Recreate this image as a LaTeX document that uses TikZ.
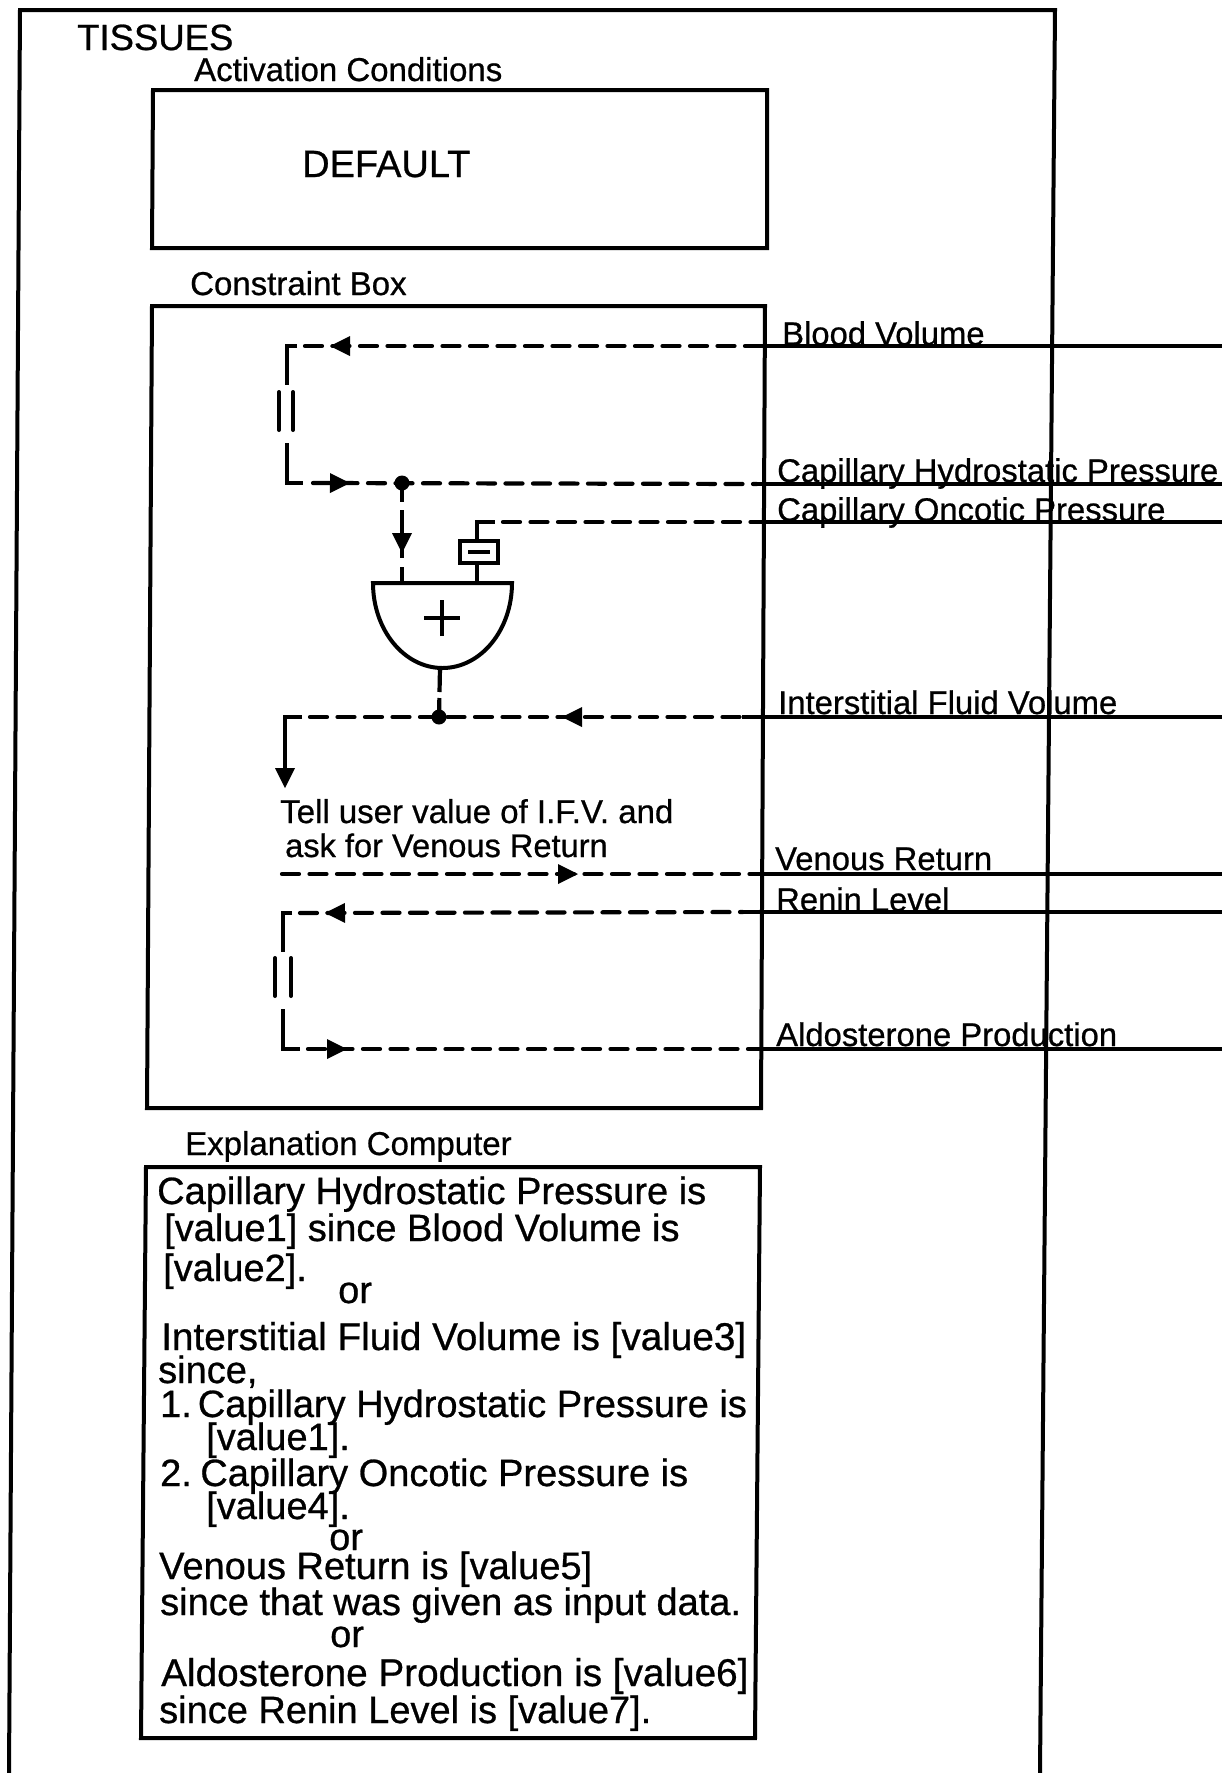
\documentclass[tikz,border=0pt]{standalone}
\usepackage{fontspec}
\setmainfont{Liberation Sans}[FakeBold=0.7]
\usetikzlibrary{arrows.meta,decorations.markings}

\tikzset{
    boxline/.style={line width=4pt, line join=miter},
    sigline/.style={line width=4.2pt, line join=miter},
    sigdash/.style={sigline, line cap=round, dash pattern=on 17pt off 10.5pt},
    % arrowheads sitting on a signal line, at a distance along it
    tipright/.style={postaction=decorate, decoration={markings,
        mark=at position #1 with {\arrow{Triangle[length=20pt,width=20pt,line width=0pt]}}}},
    tipleft/.style={postaction=decorate, decoration={markings,
        mark=at position #1 with {\arrowreversed{Triangle[length=20pt,width=20pt,line width=0pt]}}}},
    dotnode/.style={circle, fill=black, inner sep=0pt, minimum size=15pt},
    signame/.style={anchor=base west, inner sep=0pt, font=\fontsize{32.8}{34}\selectfont},
    tellname/.style={anchor=base west, inner sep=0pt, font=\fontsize{33}{35}\selectfont},
    boxname/.style={anchor=base west, inner sep=0pt, font=\fontsize{33}{35}\selectfont},
    expl/.style={anchor=base west, inner sep=0pt, font=\fontsize{38}{40}\selectfont},
    explwide/.style={expl, font=\fontsize{38.7}{40}\selectfont},
}

\begin{document}
\begin{tikzpicture}[x=1pt, y=-1pt]
    \useasboundingbox (0,0) rectangle (1222,1773);

    % Outer frame and the three boxes
    \draw[boxline] (9,1773) -- (20,10) -- (1055,10) -- (1040,1773);
    \draw[boxline] (153,90) -- (767,90) -- (767,248) -- (152,248) -- cycle;
    \draw[boxline] (152,306) -- (765,306) -- (761,1108) -- (147,1108) -- cycle;
    \draw[boxline] (146,1167) -- (760,1167) -- (755,1738) -- (141,1738) -- cycle;

    % Box titles
    \node[boxname, font=\fontsize{36.5}{38}\selectfont] (tissues) at (77,50) {TISSUES};
    \node[boxname] (actTitle) at (194,81) {Activation Conditions};
    \node[boxname, font=\fontsize{38}{40}\selectfont] (default) at (302,177) {DEFAULT};
    \node[boxname] (conTitle) at (190,295) {Constraint Box};
    \node[boxname] (expTitle) at (185,1155) {Explanation Computer};

    % Signal names, over the solid lines
    \node[signame] (bvName) at (782,345) {Blood Volume};
    \node[signame] (chpName) at (777,482) {Capillary Hydrostatic Pressure};
    \node[signame] (copName) at (777,521) {Capillary Oncotic Pressure};
    \node[signame] (ifvName) at (778,714) {Interstitial Fluid Volume};
    \node[signame] (vrName) at (775,870) {Venous Return};
    \node[signame] (rlName) at (776,911) {Renin Level};
    \node[signame] (apName) at (776,1046) {Aldosterone Production};

    % Where dashed and solid parts of each line meet
    \coordinate (bvJoin) at (748,346);  \coordinate (bvOut) at (1222,346);
    \coordinate (chpJoin) at (757,484); \coordinate (chpOut) at (1222,484);
    \coordinate (copJoin) at (752,522); \coordinate (copOut) at (1222,522);
    \coordinate (ifvJoin) at (742,717); \coordinate (ifvOut) at (1222,717);
    \coordinate (vrJoin) at (753,874);  \coordinate (vrOut) at (1222,874);
    \coordinate (rlJoin) at (743,912);  \coordinate (rlOut) at (1222,912);
    \coordinate (apJoin) at (752,1049); \coordinate (apOut) at (1222,1049);
    \foreach \sig in {bv,chp,cop,ifv,vr,rl,ap}
        \draw[sigline] (\sig Join) -- (\sig Out);

    % Upper relation, Blood Volume to Capillary Hydrostatic Pressure
    \coordinate (bvDash) at (305,346);
    \coordinate (bvCorner) at (287,346);
    \coordinate (bvStub) at (297,346);
    \coordinate (bvDown) at (287,385);
    \coordinate (chpUp) at (287,443);
    \coordinate (chpCorner) at (287,483);
    \coordinate (chpStub) at (303,483);
    \coordinate (chpDash) at (313,483);
    \draw[sigdash, tipleft=25pt] (bvDash) -- (bvJoin);
    \draw[sigline] (bvStub) -- (bvCorner) -- (bvDown);
    \draw[sigline] (chpUp) -- (chpCorner) -- (chpStub);
    \draw[sigdash, tipright=37pt] (chpDash) -- (chpJoin);
    \draw[boxline, line cap=round] (279,392) -- (279,430);
    \draw[boxline, line cap=round] (293,392) -- (293,430);
    \node[dotnode] (chpDot) at (402,483) {};

    % Adder
    \draw[boxline] (373,583) -- (512,583) arc (0:180:69.5 and 85) -- cycle;
    \node[inner sep=0pt] (adder) at (442,618) {};
    \draw[sigline] ([xshift=-18pt]adder.center) -- ([xshift=18pt]adder.center);
    \draw[sigline] ([yshift=-18pt]adder.center) -- ([yshift=18pt]adder.center);
    \coordinate (addIn) at (402,582);
    \coordinate (addOut) at (440,668);
    \draw[sigline, tipright=70pt, dash pattern=on 19pt off 8pt on 48pt off 9pt on 15pt] (chpDot.center) -- (addIn);

    % Negated input
    \node[draw, boxline, minimum width=38pt, minimum height=22pt, inner sep=0pt] (negBox) at (479,552) {};
    \draw[sigline] ([xshift=-11pt]negBox.center) -- ([xshift=11pt]negBox.center);
    \coordinate (negIn) at (477,583);
    \coordinate (copCorner) at (477,522);
    \coordinate (copStub) at (495,522);
    \coordinate (copDash) at (503,522);
    \draw[sigline] (negBox.south -| negIn) -- (negIn);
    \draw[sigline] (negBox.north -| copCorner) -- (copCorner) -- (copStub);
    \draw[sigdash] (copDash) -- (copJoin);

    % Adder output, Interstitial Fluid Volume
    \node[dotnode] (ifvDot) at (439,717) {};
    \coordinate (ifvDash) at (310,717);
    \coordinate (ifvStub) at (302,717);
    \coordinate (ifvCorner) at (285,717);
    \coordinate (tellTop) at (285,788);
    \draw[sigline, dash pattern=on 24pt off 6pt on 30pt] (addOut) -- (ifvDot.center);
    \draw[sigdash, tipleft=252pt] (ifvDash) -- (ifvJoin);
    \draw[sigline, -{Triangle[length=20pt,width=20pt,line width=0pt]}] (ifvStub) -- (ifvCorner) -- (tellTop);

    % Request to the user
    \node[tellname] (tell) at (280,823) {Tell user value of I.F.V. and};
    \node[tellname, font=\fontsize{32.6}{35}\selectfont] (ask) at (285,857) {ask for Venous Return};
    \coordinate (vrDash) at (282,874);
    \draw[sigdash, tipright=296pt] (vrDash) -- (vrJoin);

    % Lower relation, Renin Level to Aldosterone Production
    \coordinate (rlDash) at (300,913);
    \coordinate (rlStub) at (292,913);
    \coordinate (rlCorner) at (283,913);
    \coordinate (rlDown) at (283,952);
    \coordinate (apUp) at (283,1009);
    \coordinate (apCorner) at (283,1049);
    \coordinate (apStub) at (300,1049);
    \coordinate (apDash) at (308,1049);
    \draw[sigdash, tipleft=25pt] (rlDash) -- (rlJoin);
    \draw[sigline] (rlStub) -- (rlCorner) -- (rlDown);
    \draw[sigline] (apUp) -- (apCorner) -- (apStub);
    \draw[sigdash, tipright=39pt] (apDash) -- (apJoin);
    \draw[boxline, line cap=round] (275,958) -- (275,996);
    \draw[boxline, line cap=round] (291,958) -- (291,996);

    % Explanation text
    \node[expl] (exA) at (157,1204) {Capillary Hydrostatic Pressure is};
    \node[expl] (exB) at (164,1241) {[value1] since Blood Volume is};
    \node[expl] (exC) at (163,1281) {[value2].};
    \node[expl] (exD) at (338,1303) {or};
    \node[explwide] (exE) at (161,1350) {Interstitial Fluid Volume is [value3]};
    \node[expl] (exF) at (158,1383) {since,};
    \node[expl] (exG) at (160,1417) {1.\kern 6pt Capillary Hydrostatic Pressure is};
    \node[expl] (exH) at (206,1450) {[value1].};
    \node[expl] (exI) at (160,1486) {2.\kern 8.5pt Capillary Oncotic Pressure is};
    \node[expl] (exJ) at (206,1519) {[value4].};
    \node[expl] (exK) at (329,1550) {or};
    \node[expl] (exL) at (159,1579) {Venous Return is [value5]};
    \node[expl] (exM) at (160,1615) {since that was given as input data.};
    \node[expl] (exN) at (330,1647) {or};
    \node[explwide] (exO) at (161,1686) {Aldosterone Production is [value6]};
    \node[expl] (exP) at (159,1723) {since Renin Level is [value7].};

\end{tikzpicture}
\end{document}
